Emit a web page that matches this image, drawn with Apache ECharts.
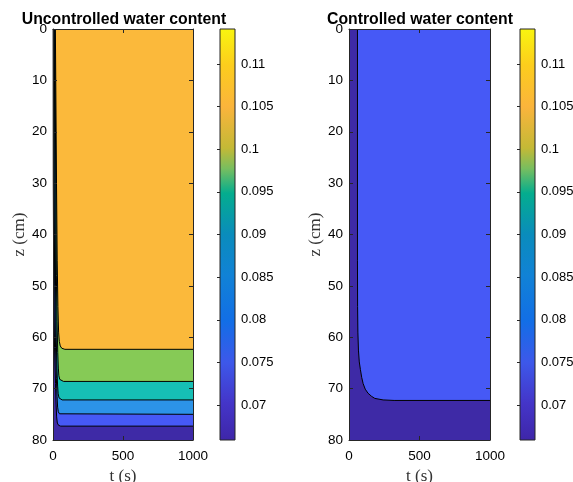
<!DOCTYPE html>
<html>
<head>
<meta charset="utf-8">
<script src="https://cdn.jsdelivr.net/npm/echarts@6/dist/echarts.min.js"></script>
<style>
html, body { margin: 0; padding: 0; background: #fff; }
#chart { width: 573px; height: 482px; }
</style>
</head>
<body>
<div id="chart"></div>
<script>
// Contour boundaries of the water content field, as [t (s), z (cm)] points.
// Uncontrolled case: boundaries listed from the deepest band upward.
const uncontrolledBoundary1 = [[1,0],[2,30],[5,50],[11,62],[18,69],[22,73],[26,75.5],[31,76.7],[40,77.15],[55,77.3],[1000,77.3]];
const uncontrolledBoundary2 = [[5,0],[8,30],[12,50],[18,62],[24,68],[29,71.5],[33,73.6],[38,74.5],[46,74.9],[60,75.0],[1000,75.0]];
const uncontrolledBoundary3 = [[9,0],[14,30],[18,50],[23,60],[28,66],[33,69.5],[37,71],[43,71.8],[52,72.1],[65,72.2],[1000,72.2]];
const uncontrolledBoundary4 = [[13,0],[20,30],[24,48],[29,57],[34,63],[38,66],[42,67.5],[48,68.2],[58,68.5],[75,68.6],[1000,68.6]];
const uncontrolledBoundary5 = [[17,0],[25,30],[30,45],[35,54],[40,59],[45,60.8],[52,61.7],[63,62.15],[85,62.35],[1000,62.35]];

// Controlled case: a single boundary between the two lowest bands.
const controlledBoundary1 = [[60,0],[60,45],[61,54],[63,59],[67,62.5],[73,64.8],[81,66.3],[90,67.8],[100,69],[115,70.1],[135,70.9],[160,71.5],[183,71.9],[242,72.2],[320,72.3],[1000,72.3]];

// Colour scale of the water content
const colorbarMin = 0.0659;
const colorbarMax = 0.1141;
const colorbarTicks = [0.07, 0.075, 0.08, 0.085, 0.09, 0.095, 0.1, 0.105, 0.11];

// Parula-like colour ramp (fraction of the scale, colour)
const rampStops = [
  [0.00, '#3E26A8'], [0.09, '#4435C8'], [0.19, '#3D58EA'], [0.29, '#126EE6'],
  [0.40, '#1182D6'], [0.50, '#0A8CBC'], [0.60, '#04AD8E'], [0.66, '#78BE5F'],
  [0.71, '#C4B936'], [0.81, '#FAB43C'], [0.91, '#FCCD1D'], [1.00, '#F9F50F']
];

// Fill colours of the contour bands, lowest to highest
const bandColors = ['#3E2AA6', '#4659F6', '#2C93E8', '#16BFB5', '#86CA56', '#FBB93B'];

const axisColor = '#262626';
const sansFont = 'Liberation Sans, Arial, Helvetica, sans-serif';
const serifFont = 'Liberation Serif, DejaVu Serif, serif';

const chart = echarts.init(document.getElementById('chart'), null, { renderer: 'canvas' });

function mainX(gridIndex, position, showLabels, name) {
  return {
    type: 'value', gridIndex, position, min: 0, max: 1000, interval: 500, z: 5,
    axisLine: { show: true, onZero: false, lineStyle: { color: axisColor, width: 1 } },
    axisTick: { show: true, inside: true, length: 4, lineStyle: { color: axisColor } },
    axisLabel: { show: showLabels, margin: 9, color: '#000', fontSize: 13.5, fontFamily: sansFont,
      formatter: v => String(v) },
    splitLine: { show: false },
    name: name || '', nameLocation: 'middle', nameGap: 24,
    nameTextStyle: { fontFamily: serifFont, fontSize: 17, color: '#333' }
  };
}
function mainY(gridIndex, position, showLabels, name) {
  return {
    type: 'value', gridIndex, position, inverse: true, min: 0, max: 80, interval: 10, z: 5,
    axisLine: { show: true, onZero: false, lineStyle: { color: axisColor, width: 1 } },
    axisTick: { show: true, inside: true, length: 4, lineStyle: { color: axisColor } },
    axisLabel: { show: showLabels, margin: 6, color: '#000', fontSize: 13.5, fontFamily: sansFont },
    splitLine: { show: false },
    name: name || '', nameLocation: 'middle', nameGap: 22, nameRotate: 90,
    nameTextStyle: { fontFamily: serifFont, fontSize: 17, color: '#333' }
  };
}
function cbX(gridIndex) {
  return { type: 'value', gridIndex, min: 0, max: 1, show: false };
}
function cbY(gridIndex) {
  return {
    type: 'value', gridIndex, position: 'right', min: colorbarMin, max: colorbarMax, z: 5,
    axisLine: { show: false },
    axisTick: { show: true, inside: true, length: 3, customValues: colorbarTicks, lineStyle: { color: axisColor } },
    axisLabel: { show: true, margin: 6, customValues: colorbarTicks, color: '#000', fontSize: 13, fontFamily: sansFont,
      formatter: v => String(+v.toFixed(3)) },
    splitLine: { show: false }
  };
}

function boundarySeries(data, color, xi, yi) {
  return {
    type: 'line', data, xAxisIndex: xi, yAxisIndex: yi,
    showSymbol: false, symbol: 'none', smooth: false, clip: true,
    lineStyle: { color: '#000', width: 1 },
    areaStyle: { color, opacity: 1, origin: 'start' },
    silent: true, z: 2
  };
}

function colorbarSeries(xi, yi) {
  const stops = rampStops.map(s => ({ offset: 1 - s[0], color: s[1] })).reverse();
  return {
    type: 'custom', xAxisIndex: xi, yAxisIndex: yi, silent: true, z: 1,
    data: [[0, colorbarMin, 1, colorbarMax]],
    renderItem: function (params, api) {
      const p0 = api.coord([api.value(0), api.value(3)]);
      const p1 = api.coord([api.value(2), api.value(1)]);
      return {
        type: 'rect',
        shape: { x: p0[0], y: p0[1], width: p1[0] - p0[0], height: p1[1] - p0[1] },
        style: { fill: new echarts.graphic.LinearGradient(0, 0, 0, 1, stops), stroke: axisColor, lineWidth: 1 }
      };
    }
  };
}

const plotGrid = { top: 29, height: 411, show: true, backgroundColor: bandColors[0], borderWidth: 0, outerBoundsMode: 'none', containLabel: false };
const barGrid = { top: 29, height: 411, width: 15, outerBoundsMode: 'none', containLabel: false };

const option = {
  animation: false,
  backgroundColor: '#fff',
  title: [
    { text: 'Uncontrolled water content', left: 119, top: 7, textAlign: 'center',
      textStyle: { fontFamily: sansFont, fontSize: 15.8, fontWeight: 'bold', color: '#000' } },
    { text: 'Controlled water content', left: 415, top: 7, textAlign: 'center',
      textStyle: { fontFamily: sansFont, fontSize: 15.8, fontWeight: 'bold', color: '#000' } }
  ],
  grid: [
    Object.assign({ left: 53, width: 140 }, plotGrid),
    Object.assign({ left: 220 }, barGrid),
    Object.assign({ left: 349, width: 141 }, plotGrid),
    Object.assign({ left: 520 }, barGrid)
  ],
  xAxis: [
    mainX(0, 'bottom', true, 't (s)'), mainX(0, 'top', false), cbX(1),
    mainX(2, 'bottom', true, 't (s)'), mainX(2, 'top', false), cbX(3)
  ],
  yAxis: [
    mainY(0, 'left', true, 'z (cm)'), mainY(0, 'right', false), cbY(1),
    mainY(2, 'left', true, 'z (cm)'), mainY(2, 'right', false), cbY(3)
  ],
  series: [
    boundarySeries(uncontrolledBoundary1, bandColors[1], 0, 0),
    boundarySeries(uncontrolledBoundary2, bandColors[2], 0, 0),
    boundarySeries(uncontrolledBoundary3, bandColors[3], 0, 0),
    boundarySeries(uncontrolledBoundary4, bandColors[4], 0, 0),
    boundarySeries(uncontrolledBoundary5, bandColors[5], 0, 0),
    colorbarSeries(2, 2),
    boundarySeries(controlledBoundary1, bandColors[1], 3, 3),
    colorbarSeries(5, 5)
  ]
};

chart.setOption(option);
</script>
</body>
</html>
